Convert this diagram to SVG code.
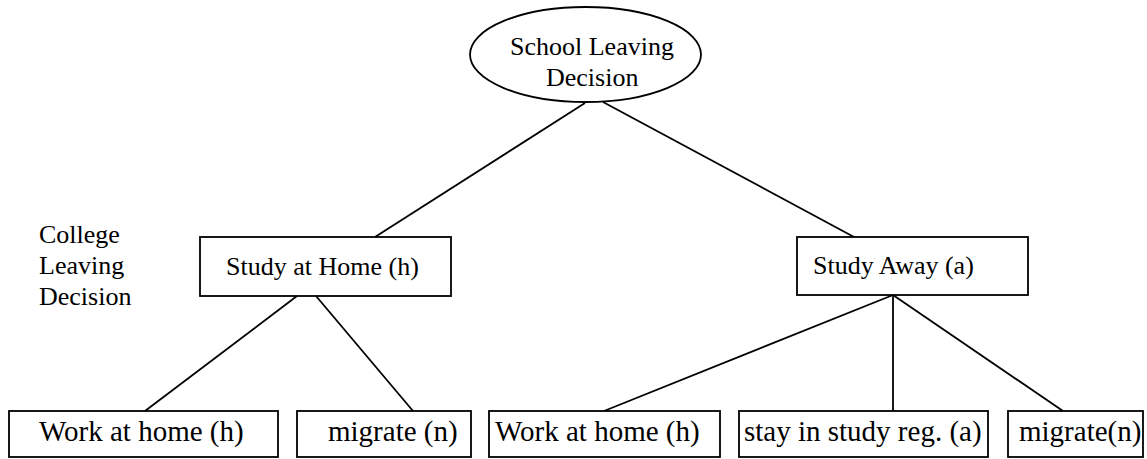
<svg xmlns="http://www.w3.org/2000/svg" width="1147" height="459" viewBox="0 0 1147 459">
<style>
.shape{fill:#fff;stroke:#000;stroke-width:1.8}
.t{font-family:"Liberation Serif","Times New Roman",serif;fill:#000}
.m{font-size:26px}
.b{font-size:29px}
.c line{stroke:#000;stroke-width:1.8}
</style>
<rect width="1147" height="459" fill="#fff"/>
<g class="c" id="connectors">
<line x1="585" y1="103" x2="375" y2="237"/>
<line x1="603" y1="102" x2="854" y2="237"/>
<line x1="297" y1="296" x2="145" y2="411"/>
<line x1="316" y1="296" x2="413" y2="411"/>
<line x1="893" y1="295" x2="604" y2="411"/>
<line x1="893" y1="295" x2="893" y2="411"/>
<line x1="893" y1="295" x2="1063" y2="411"/>
</g>
<g id="school">
<ellipse class="shape" cx="585.5" cy="54.5" rx="115.5" ry="47.5"/>
<text class="t m" x="510" y="55">School Leaving</text>
<text class="t m" x="546" y="86">Decision</text>
</g>
<g id="college-label">
<text class="t m" x="39" y="243">College</text>
<text class="t m" x="39" y="274">Leaving</text>
<text class="t m" x="39" y="305">Decision</text>
</g>
<g id="study-home">
<rect class="shape" x="200" y="237" width="251" height="59"/>
<text class="t m" x="226" y="275">Study at Home (h)</text>
</g>
<g id="study-away">
<rect class="shape" x="797" y="237" width="231" height="58"/>
<text class="t m" x="813" y="274">Study Away (a)</text>
</g>
<g id="work-home-1">
<rect class="shape" x="9" y="411" width="269" height="46"/>
<text class="t b" x="39" y="441">Work at home (h)</text>
</g>
<g id="migrate-1">
<rect class="shape" x="297" y="411" width="174" height="46"/>
<text class="t b" x="328" y="441">migrate (n)</text>
</g>
<g id="work-home-2">
<rect class="shape" x="489" y="411" width="231" height="46"/>
<text class="t b" x="495" y="441">Work at home (h)</text>
</g>
<g id="stay">
<rect class="shape" x="739" y="411" width="249" height="46"/>
<text class="t b" x="744" y="441">stay in study reg. (a)</text>
</g>
<g id="migrate-2">
<rect class="shape" x="1008" y="411" width="135" height="46"/>
<text class="t b" x="1019" y="441">migrate(n)</text>
</g>
</svg>
